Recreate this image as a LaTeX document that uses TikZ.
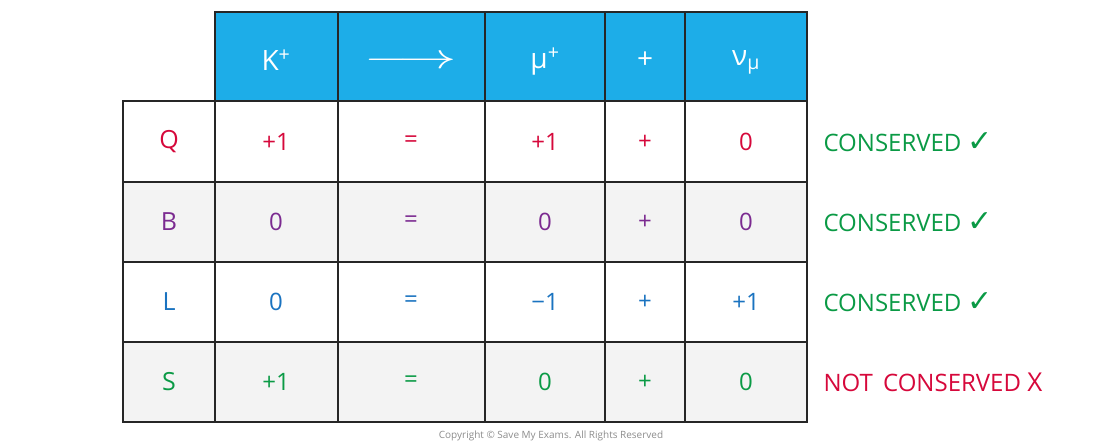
\documentclass[tikz,border=0pt]{standalone}
\usepackage{fontspec}
\setmainfont{Open Sans}
\newfontfamily\symfont{DejaVu Sans}
\usetikzlibrary{positioning}
\definecolor{headblue}{HTML}{1DADE8}
\definecolor{rowgray}{HTML}{F3F3F3}
\definecolor{qred}{HTML}{D6083B}
\definecolor{bpurple}{HTML}{7B2A90}
\definecolor{lblue}{HTML}{1A73C0}
\definecolor{sgreen}{HTML}{0A9A45}
\tikzset{
  cell/.style={font=\fontsize{24}{26}\selectfont},
  rowlabel/.style={font=\fontsize{25}{27}\selectfont},
  head/.style={font=\fontsize{28}{30}\selectfont, text=white},
  verdict/.style={anchor=west, font=\fontsize{24}{26}\selectfont}
}
\begin{document}
\begin{tikzpicture}[x=1pt,y=-1pt]
\useasboundingbox (0,0) rectangle (1100,447);
% backgrounds
\fill[headblue] (215,12) rectangle (807,101);
\fill[white] (123,101) rectangle (807,182);
\fill[rowgray] (123,182) rectangle (807,262);
\fill[white] (123,262) rectangle (807,342);
\fill[rowgray] (123,342) rectangle (807,422);
% grid
\draw[line width=2.5pt, black!85] (215,12) rectangle (807,101);
\draw[line width=2.5pt, black!85] (123,101) rectangle (807,422);
\foreach \x in {215,338,485,605,685} \draw[line width=2.5pt, black!85] (\x,12) -- (\x,422);
\foreach \y in {182,262,342} \draw[line width=2.5pt, black!85] (123,\y) -- (807,\y);
% header
\node (kplus) [head] at (276,60) {K\textsuperscript{+}};
\node (arrow) [head] at (411,62) {\scalebox{2.3}[1.4]{$\longrightarrow$}};
\node (muplus) [head] at (545,62) {μ\textsuperscript{+}};
\node (plus) [head] at (645,60) {+};
\node (numu) [head] at (746,62) {ν\textsubscript{μ}};
% rows
\node (qlabel) [rowlabel, text=qred] at (169,142) {Q};
\node (qk) [cell, text=qred] at (276,142) {+1};
\node (qeq) [cell, text=qred] at (411,142) {=};
\node (qmu) [cell, text=qred] at (545,142) {+1};
\node (qplus) [cell, text=qred] at (645,142) {+};
\node (qnu) [cell, text=qred] at (746,142) {0};
\node (blabel) [rowlabel, text=bpurple] at (169,222) {B};
\node (bk) [cell, text=bpurple] at (276,222) {0};
\node (beq) [cell, text=bpurple] at (411,222) {=};
\node (bmu) [cell, text=bpurple] at (545,222) {0};
\node (bplus) [cell, text=bpurple] at (645,222) {+};
\node (bnu) [cell, text=bpurple] at (746,222) {0};
\node (llabel) [rowlabel, text=lblue] at (169,302) {L};
\node (lk) [cell, text=lblue] at (276,302) {0};
\node (leq) [cell, text=lblue] at (411,302) {=};
\node (lmu) [cell, text=lblue] at (545,302) {−1};
\node (lplus) [cell, text=lblue] at (645,302) {+};
\node (lnu) [cell, text=lblue] at (746,302) {+1};
\node (slabel) [rowlabel, text=sgreen] at (169,382) {S};
\node (sk) [cell, text=sgreen] at (276,382) {+1};
\node (seq) [cell, text=sgreen] at (411,382) {=};
\node (smu) [cell, text=sgreen] at (545,382) {0};
\node (splus) [cell, text=sgreen] at (645,382) {+};
\node (snu) [cell, text=sgreen] at (746,382) {0};
% verdicts
\node (qverdict) [verdict, text=sgreen] at (820,142) {CONSERVED {\symfont\fontsize{30}{30}\selectfont ✓}};
\node (bverdict) [verdict, text=sgreen] at (820,222) {CONSERVED {\symfont\fontsize{30}{30}\selectfont ✓}};
\node (lverdict) [verdict, text=sgreen] at (820,302) {CONSERVED {\symfont\fontsize{30}{30}\selectfont ✓}};
\node (sverdict) [verdict, text=qred] at (820,382) {NOT\, CONSERVED {\fontsize{26}{28}\selectfont X}};
\node (copyright) [text=black!45, font=\fontsize{10}{11}\selectfont] at (551,436) {Copyright © Save My Exams. All Rights Reserved};
\end{tikzpicture}
\end{document}
